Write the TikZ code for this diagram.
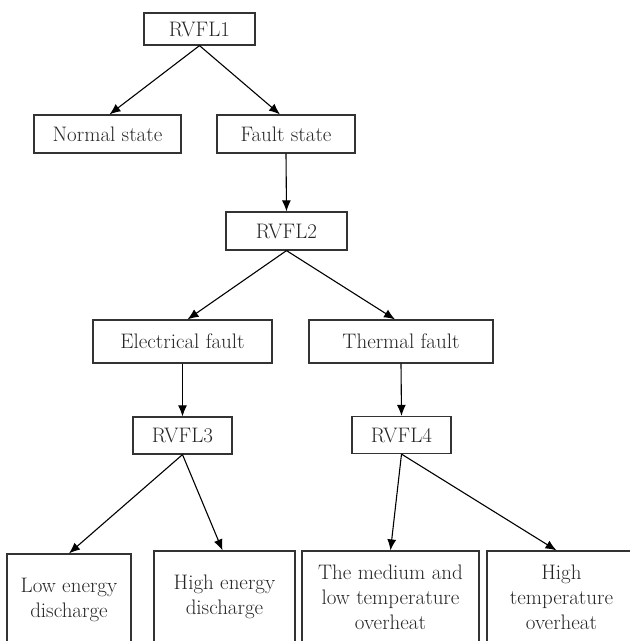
\documentclass[tikz,border=0pt]{standalone}
\usepackage{tikz}
\usetikzlibrary{arrows.meta,calc}
\usetikzlibrary{positioning}
\tikzstyle{blk}=[draw=black!80,rectangle,line width=1.2pt,inner sep=2pt,align=center,
                 text=black!85,font=\fontsize{21}{25}\selectfont]
\tikzstyle{leaf}=[blk,minimum height=92pt]
\tikzstyle{hit}=[-{Latex[length=11pt,width=9pt]},line width=1.1pt]

\begin{document}
\begin{tikzpicture}[x=1pt,y=-1pt]
\useasboundingbox (0,0) rectangle (630,641);
\clip (0,0) rectangle (630,641);
% classifier levels
\node[blk,minimum width=111pt,minimum height=32pt] (rvfl1) at (199.5,29) {RVFL1};
\node[blk,minimum width=147pt,minimum height=38pt] (normal) at (107.5,134) {Normal state};
\node[blk,minimum width=138pt,minimum height=38pt] (fault) at (286,134) {Fault state};
\node[blk,minimum width=121pt,minimum height=38pt] (rvfl2) at (286.5,231) {RVFL2};
\node[blk,minimum width=179pt,minimum height=43pt] (elec) at (182.5,341.5) {Electrical fault};
\node[blk,minimum width=184pt,minimum height=43pt] (therm) at (401,341.5) {Thermal fault};
\node[blk,minimum width=99pt,minimum height=37pt] (rvfl3) at (182.5,435.5) {RVFL3};
\node[blk,minimum width=99pt,minimum height=37pt] (rvfl4) at (401.5,435) {RVFL4};
% fault types
\node[leaf,minimum width=124pt] (low) at (69,600) {Low energy\\discharge};
\node[leaf,minimum width=141pt] (high) at (224.5,597) {High energy\\discharge};
\node[leaf,minimum width=177pt] (med) at (390.5,597) {The medium and\\low temperature\\overheat};
\node[leaf,minimum width=149pt] (hot) at (561.5,597) {High\\temperature\\overheat};

\draw[hit] (rvfl1.south) -- ($(normal.north)+(2,0)$);
\draw[hit] (rvfl1.south) -- ($(fault.north)+(-6,0)$);
\draw[hit] (fault.south) -- (rvfl2.north);
\draw[hit] (rvfl2.south) -- ($(elec.north)+(5,0)$);
\draw[hit] (rvfl2.south) -- ($(therm.north)+(-6,0)$);
\draw[hit] (elec.south) -- (rvfl3.north);
\draw[hit] (therm.south) -- (rvfl4.north);
\draw[hit] (rvfl3.south) -- (low.north);
\draw[hit] (rvfl3.south) -- ($(high.north)+(-2,0)$);
\draw[hit] (rvfl4.south) -- (med.north);
\draw[hit] (rvfl4.south) -- ($(hot.north)+(-5,0)$);
\end{tikzpicture}
\end{document}
